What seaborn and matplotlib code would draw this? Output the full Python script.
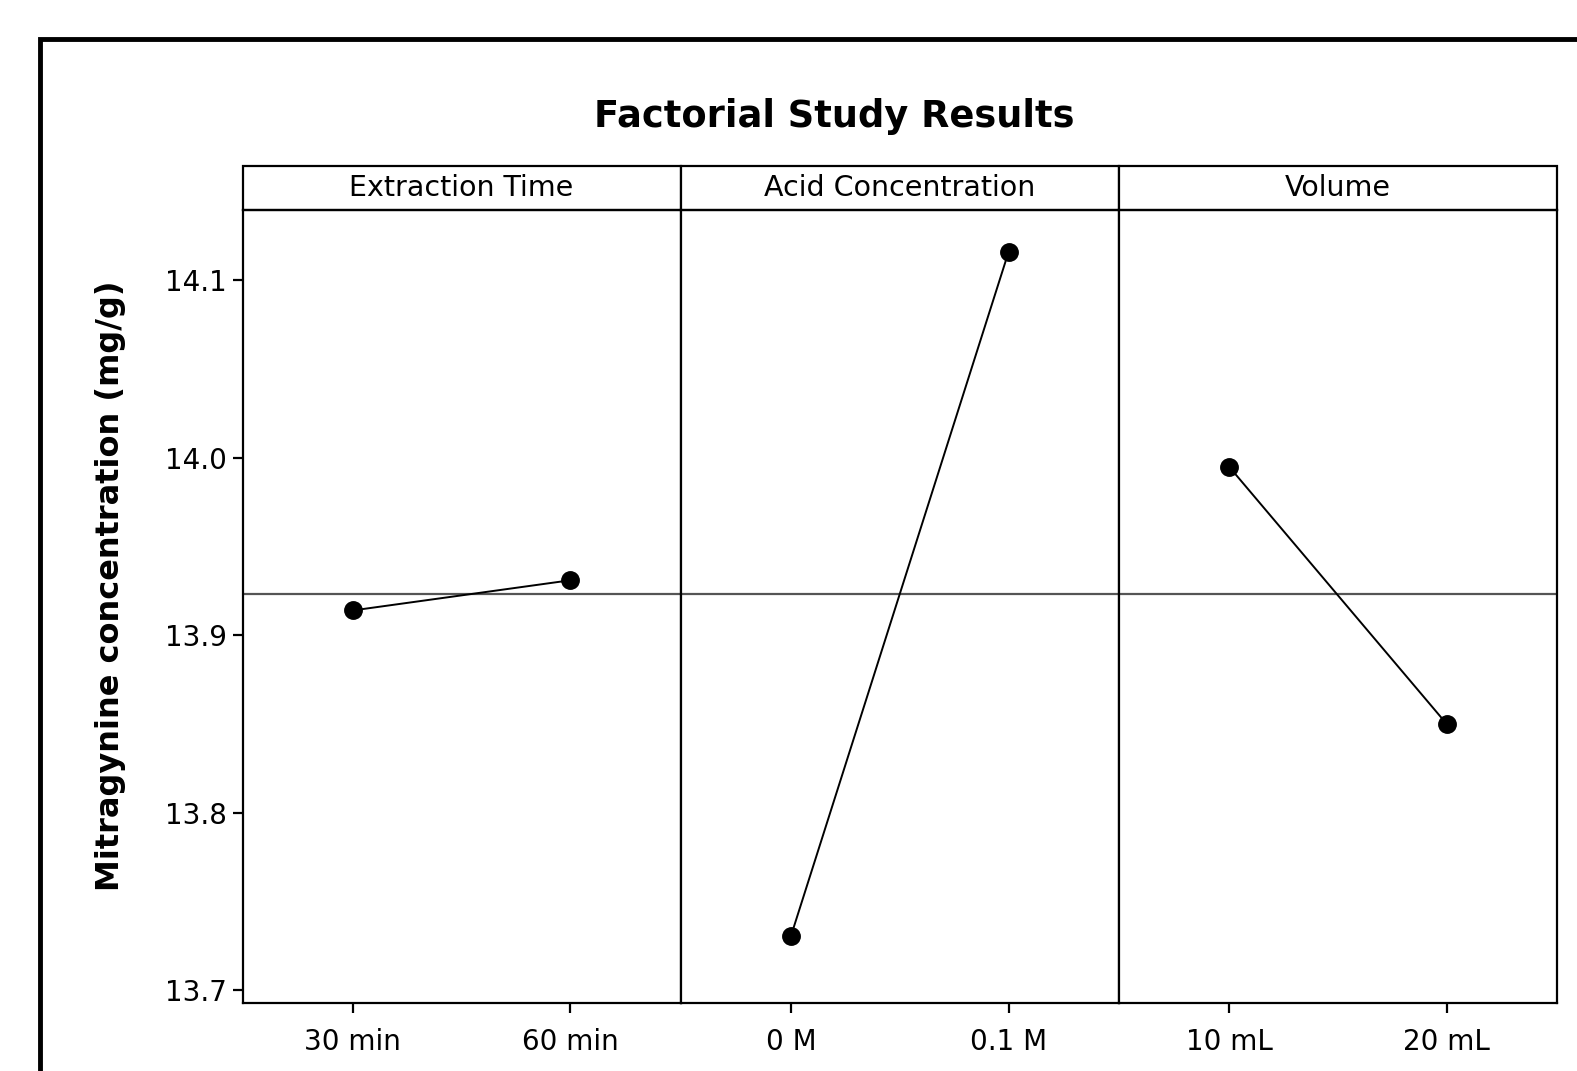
import matplotlib
matplotlib.use("Agg")
import matplotlib.pyplot as plt
from matplotlib.patches import Rectangle
import seaborn as sns
import pandas as pd

# ---- data ----
factors = ["Extraction Time", "Acid Concentration", "Volume"]
time_levels = ["30 min", "60 min"]
time_means = [13.914, 13.931]
acid_levels = ["0 M", "0.1 M"]
acid_means = [13.7305, 14.116]
vol_levels = ["10 mL", "20 mL"]
vol_means = [13.995, 13.850]
grand_mean = 13.923
y_ticks = [13.7, 13.8, 13.9, 14.0, 14.1]

levels = [time_levels, acid_levels, vol_levels]
means = [time_means, acid_means, vol_means]

rows = []
for f, lv, mv in zip(factors, levels, means):
    for l, m in zip(lv, mv):
        rows.append({"factor": f, "level": l, "value": m})
df = pd.DataFrame(rows)

sns.set_theme(style="white")
plt.rcParams["font.family"] = ["DejaVu Sans"]

W, H = 1577, 1071
fig = plt.figure(figsize=(W / 100, H / 100), dpi=100)

left_px, right_px = 242.5, 1557
top_px, bot_px = 209.5, 1002.5
strip_px = 43.5
panel_w = (right_px - left_px) / 3

axes = []
for i in range(3):
    x0 = (left_px + i * panel_w) / W
    ax = fig.add_axes([x0, 1 - bot_px / H, panel_w / W, (bot_px - top_px) / H],
                      sharey=axes[0] if axes else None)
    axes.append(ax)

for i, (ax, f, lv) in enumerate(zip(axes, factors, levels)):
    sub = df[df["factor"] == f]
    ax.axhline(grand_mean, color="#555555", lw=1.6, zorder=1)
    sns.pointplot(data=sub, x="level", y="value", order=lv, color="black",
                  markers="o", markersize=12.5, linewidth=1.4, errorbar=None, ax=ax)
    ax.set_xlim(-0.507, 1.507)
    ax.set_ylim(13.693, 14.140)
    ax.set_xlabel("")
    ax.set_ylabel("")
    for s in ax.spines.values():
        s.set_visible(True)
        s.set_color("black")
        s.set_linewidth(1.6)
    ax.tick_params(axis="x", bottom=True, length=7, width=1.6, labelsize=20,
                   pad=11, colors="black")
    if i == 0:
        ax.set_yticks(y_ticks)
        ax.set_yticklabels([f"{v:.1f}" for v in y_ticks])
        ax.tick_params(axis="y", left=True, length=7, width=1.6, labelsize=20,
                       pad=4, colors="black")
    else:
        ax.tick_params(axis="y", left=False, labelleft=False)
    # strip header
    sh = strip_px / (bot_px - top_px)
    ax.add_patch(Rectangle((0, 1), 1, sh, transform=ax.transAxes, clip_on=False,
                           facecolor="white", edgecolor="black", lw=1.6))
    ax.text(0.5, 1 + sh / 2, f, transform=ax.transAxes, ha="center", va="center",
            fontsize=20.5, color="black")

fig.text(834 / W, 1 - 116 / H, "Factorial Study Results", ha="center", va="center",
         fontsize=26.5, fontweight="bold", color="black")
fig.text(111 / W, 1 - 586 / H, "Mitragynine concentration (mg/g)", rotation=90,
         ha="center", va="center", fontsize=23, fontweight="bold", color="black")

# outer frame, extending past right and bottom edges
fig.add_artist(Rectangle((40 / W, -0.2), 1.5, 1.2 - 38.5 / H, transform=fig.transFigure,
                         fill=False, edgecolor="black", lw=3.5))

fig.savefig("out.png", dpi=100, facecolor="white")
